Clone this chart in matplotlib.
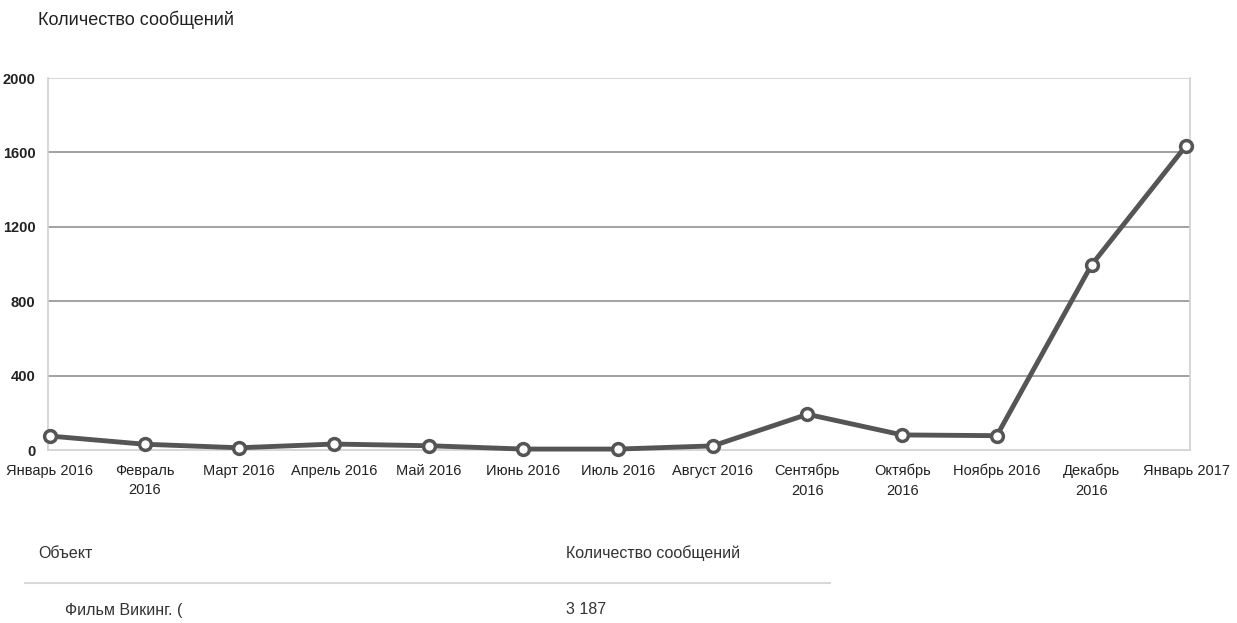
import matplotlib
matplotlib.use('Agg')
from matplotlib import pyplot as plt

plt.rcParams['font.family'] = ['Liberation Sans', 'DejaVu Sans']

months = [
    'Январь 2016', 'Февраль\n2016', 'Март 2016', 'Апрель 2016', 'Май 2016',
    'Июнь 2016', 'Июль 2016', 'Август 2016', 'Сентябрь\n2016', 'Октябрь\n2016',
    'Ноябрь 2016', 'Декабрь\n2016', 'Январь 2017',
]
messages = [75, 31, 12, 32, 23, 5, 5, 22, 192, 81, 77, 995, 1637]
y_ticks = [0, 400, 800, 1200, 1600, 2000]

table_header = ['Объект', 'Количество сообщений']
table_row = ['Фильм Викинг. (', '3 187']

fig = plt.figure(figsize=(12.37, 6.23), dpi=100)
ax = fig.add_axes([48 / 1237, 1 - 450 / 623, (1190 - 48) / 1237, (450 - 78) / 623])

x = list(range(len(months)))
ax.plot(x, messages, color='#555555', lw=3.5, zorder=3, clip_on=False,
        marker='o', ms=8.5, mfc='white', mec='#555555', mew=2.5)

ax.set_xlim(-0.02, len(months) - 1 + 0.04)
ax.set_ylim(0, 2000)
ax.set_yticks(y_ticks)
ax.set_yticklabels([str(v) for v in y_ticks], fontsize=10.5, color='#222222',
                   fontweight='bold')
ax.set_xticks(x)
ax.set_xticklabels(months, fontsize=10.5, color='#222222', linespacing=1.5)
ax.tick_params(length=0)
ax.tick_params(axis='x', pad=10)
ax.tick_params(axis='y', pad=9)

for v in y_ticks[1:-1]:
    ax.axhline(v, color='#9a9a9a', lw=1.3, zorder=1)
ax.axhline(2000, color='#cfcfcf', lw=1.2, zorder=1)
for side in ['left', 'right', 'bottom']:
    ax.spines[side].set_color('#d0d0d0')
    ax.spines[side].set_linewidth(1.2)
ax.spines['top'].set_visible(False)

fig.text(38 / 1237, 1 - 20 / 623, 'Количество сообщений', fontsize=13,
         color='#222222', va='center', ha='left')

# table under the chart
fig.text(38 / 1237, 1 - 553 / 623, table_header[0], fontsize=11.5,
         color='#333333', va='center')
fig.text(566 / 1237, 1 - 553 / 623, table_header[1], fontsize=11.5,
         color='#333333', va='center')
fig.add_artist(plt.Line2D([25 / 1237, 830 / 1237], [1 - 583 / 623] * 2,
                          color='#d8d8d8', lw=1.5))
fig.text(65 / 1237, 1 - 610 / 623, table_row[0], fontsize=11.5,
         color='#333333', va='center')
fig.text(566 / 1237, 1 - 610 / 623, table_row[1], fontsize=11.5,
         color='#333333', va='center')

fig.savefig('out.png', dpi=100)
